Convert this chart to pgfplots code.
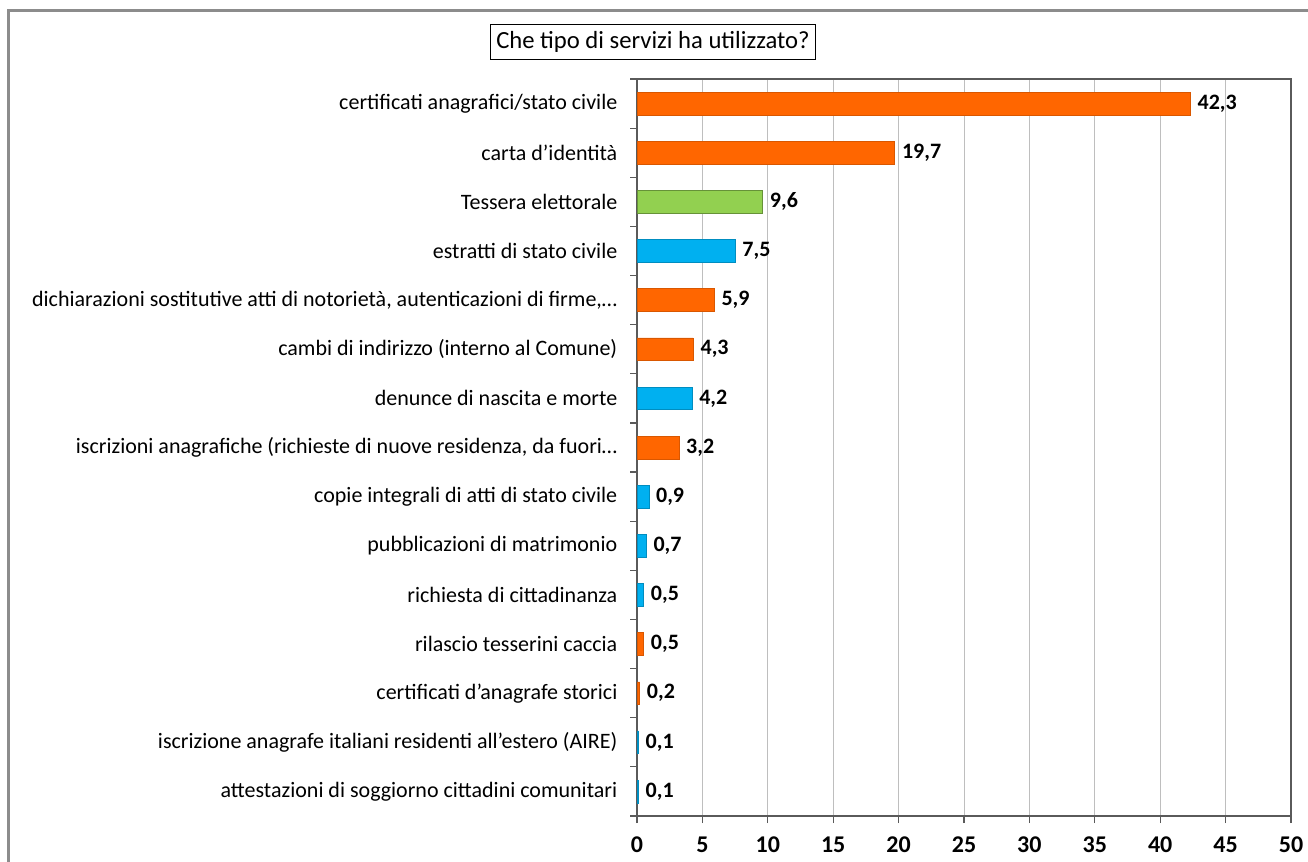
\documentclass[border=0pt]{standalone}
\usepackage{pgfplots}
\pgfplotsset{compat=1.18}
\usepackage{fontspec}
\setmainfont{Carlito}
\definecolor{orng}{RGB}{255,102,0}
\definecolor{grn}{RGB}{146,208,80}
\definecolor{blu}{RGB}{0,176,240}
\definecolor{axgray}{RGB}{90,90,90}
\definecolor{gridgray}{RGB}{190,190,190}
\definecolor{framegray}{RGB}{140,140,140}

\begin{document}
\begin{tikzpicture}[x=0.75pt,y=0.75pt]
\path[fill=white,use as bounding box] (0,0) rectangle (1308,862);
\draw[framegray, line width=2.25pt] (8,0) -- (8,851) -- (1308,851);
\node[draw=black, line width=0.75pt, inner xsep=4.5pt, inner ysep=5pt, font=\fontsize{18.5}{22}\selectfont] at (653,820) {Che tipo di servizi ha utilizzato?};
\begin{axis}[
  at={(477.75pt,34.5pt)}, anchor=south west,
  scale only axis, width=490.5pt, height=552.75pt,
  xbar, bar shift=0pt, bar width=17pt,
  xmin=0, xmax=50, ymin=-0.5, ymax=14.5, y dir=reverse,
  xtick={0,5,...,50},
  xmajorgrids, grid style={gridgray, line width=0.75pt},
  axis line style={axgray, line width=0.9pt},
  tick align=outside, major tick length=5.25pt,
  xtick pos=bottom, ytick pos=left,
  xtick style={axgray, line width=0.9pt},
  ytick={0,...,14},
  ytick style={draw=none},
  extra y ticks={-0.5,0.5,...,14.5},
  extra y tick labels={},
  extra y tick style={ytick style={draw=axgray, line width=0.9pt}},
  yticklabels={
    certificati anagrafici/stato civile,
    carta d'identità,
    Tessera elettorale,
    estratti di stato civile,
    {dichiarazioni sostitutive atti di notorietà, autenticazioni di firme,…},
    cambi di indirizzo (interno al Comune),
    denunce di nascita e morte,
    {iscrizioni anagrafiche (richieste di nuove residenza, da fuori…},
    copie integrali di atti di stato civile,
    pubblicazioni di matrimonio,
    richiesta di cittadinanza,
    rilascio tesserini caccia,
    certificati d'anagrafe storici,
    iscrizione anagrafe italiani residenti all'estero (AIRE),
    attestazioni di soggiorno cittadini comunitari},
  yticklabel style={font=\fontsize{16.5}{19}\selectfont, xshift=-6pt},
  xticklabel style={font=\bfseries\fontsize{18}{21}\selectfont, yshift=-7pt},
  /pgf/number format/assume math mode=true,
  nodes near coords={\pgfmathprintnumber[use comma,fixed,fixed zerofill,precision=1,assume math mode=true]{\pgfplotspointmeta}},
  nodes near coords style={anchor=west, xshift=2pt, font=\bfseries\fontsize{16.5}{19}\selectfont, black},
]
\addplot[fill=orng, draw=orng!85!black, line width=0.4pt] coordinates {
  (42.3,0) (19.7,1) (5.9,4) (4.3,5) (3.2,7) (0.5,11) (0.2,12)};
\addplot[fill=grn, draw=grn!70!black, line width=0.4pt] coordinates {
  (9.6,2)};
\addplot[fill=blu, draw=blu!80!black, line width=0.4pt] coordinates {
  (7.5,3) (4.2,6) (0.9,8) (0.7,9) (0.5,10) (0.1,13) (0.1,14)};
\end{axis}
\end{tikzpicture}
\end{document}
